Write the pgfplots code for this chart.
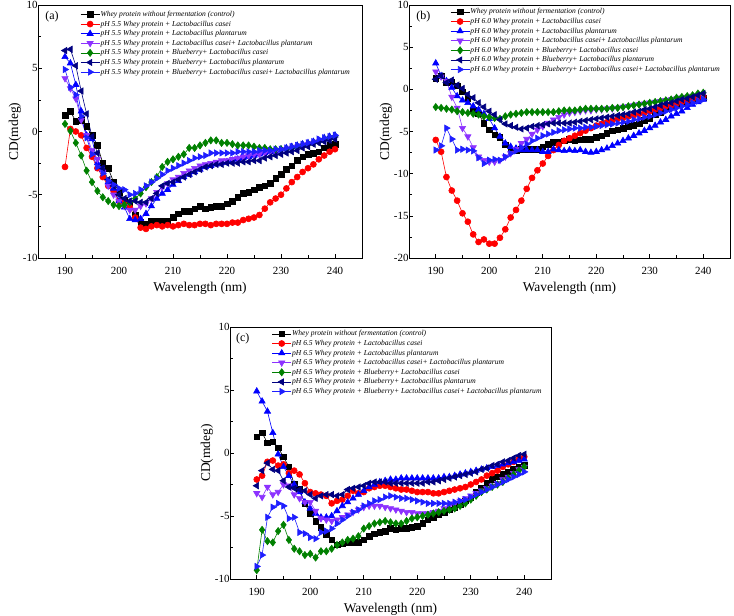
\documentclass[border=0pt]{standalone}
\usepackage{pgfplots}
\usepackage{pgfplotstable}
\pgfplotsset{compat=1.18}
\usepackage{fontspec}
\setmainfont{Liberation Serif}
\definecolor{cpurple}{RGB}{140,50,255}
\definecolor{cgreen}{RGB}{0,128,0}
\definecolor{cnavy}{RGB}{0,0,128}
\definecolor{cblue}{RGB}{0,0,255}
\definecolor{cblue2}{RGB}{30,30,255}

\pgfplotstableread{
x a b c d e f g
190 1.3 -2.8 5.9 4.2 0.6 6.4 4.9
191 1.6 0.2 5.4 3.4 0.05 6.5 3.5
192 0.8 0.0 3.7 2.6 -0.9 5.2 2.9
193 0.9 -0.3 1.6 0.9 -1.9 3.2 1.2
194 0.4 -1.3 -0.3 -0.3 -3.1 1.4 -0.5
195 -0.3 -2.0 -0.6 -1.5 -4.0 -0.4 -1.8
196 -1.1 -2.9 -2.5 -2.2 -4.7 -1.7 -2.8
197 -2.5 -3.6 -3.0 -3.2 -5.2 -2.9 -3.3
198 -2.9 -4.3 -4.0 -4.3 -5.5 -3.8 -3.9
199 -4.0 -4.7 -4.5 -5.0 -5.8 -4.3 -4.2
200 -4.8 -5.5 -5.5 -5.5 -5.9 -5.0 -4.5
201 -5.4 -5.6 -6.0 -5.9 -5.8 -5.3 -4.6
202 -5.7 -6.0 -6.9 -6.2 -5.6 -5.5 -5.0
203 -6.6 -6.8 -7.0 -6.2 -5.3 -5.5 -4.9
204 -7.2 -7.6 -6.9 -5.9 -4.9 -5.6 -4.6
205 -7.3 -7.7 -6.5 -5.7 -4.4 -5.6 -4.3
206 -7.1 -7.5 -5.9 -5.3 -4.0 -5.3 -4.0
207 -7.1 -7.4 -5.3 -4.8 -3.6 -4.9 -3.7
208 -7.1 -7.5 -4.9 -4.4 -2.8 -4.3 -3.4
209 -7.1 -7.4 -4.6 -4.1 -2.4 -4.1 -3.1
210 -6.8 -7.5 -4.2 -3.8 -2.2 -4.0 -2.9
211 -6.5 -7.4 -3.9 -3.6 -2.0 -3.8 -2.7
212 -6.3 -7.3 -3.6 -3.3 -1.8 -3.6 -2.5
213 -6.3 -7.4 -3.4 -3.1 -1.3 -3.4 -2.3
214 -6.1 -7.4 -3.2 -2.9 -1.3 -3.2 -2.1
215 -5.9 -7.3 -3.0 -2.7 -1.1 -3.0 -2.0
216 -6.1 -7.3 -2.8 -2.6 -0.9 -2.8 -1.9
217 -6.0 -7.4 -2.7 -2.5 -0.7 -2.7 -1.7
218 -5.9 -7.3 -2.6 -2.4 -0.7 -2.6 -1.7
219 -5.9 -7.3 -2.5 -2.3 -0.9 -2.6 -1.7
220 -5.7 -7.3 -2.4 -2.3 -0.9 -2.5 -1.7
221 -5.5 -7.2 -2.3 -2.2 -1.0 -2.5 -1.7
222 -5.2 -7.2 -2.2 -2.1 -1.1 -2.5 -1.6
223 -4.9 -7.0 -2.1 -2.0 -1.1 -2.4 -1.6
224 -4.8 -6.9 -2.0 -1.9 -1.1 -2.4 -1.6
225 -4.6 -6.8 -1.9 -1.8 -1.2 -2.3 -1.6
226 -4.4 -6.6 -1.8 -1.8 -1.3 -2.3 -1.5
227 -4.3 -6.1 -1.7 -1.7 -1.3 -2.1 -1.5
228 -4.1 -5.6 -1.6 -1.6 -1.4 -2.0 -1.5
229 -3.7 -5.3 -1.5 -1.6 -1.4 -1.9 -1.4
230 -3.4 -5.0 -1.4 -1.5 -1.4 -1.8 -1.4
231 -3.0 -4.5 -1.3 -1.4 -1.4 -1.7 -1.3
232 -2.7 -4.0 -1.2 -1.3 -1.3 -1.6 -1.2
233 -2.3 -3.6 -1.1 -1.2 -1.2 -1.5 -1.1
234 -2.0 -3.2 -1.0 -1.1 -1.1 -1.3 -1.0
235 -1.8 -2.9 -0.9 -1.0 -1.0 -1.2 -0.9
236 -1.7 -2.6 -0.8 -0.9 -0.9 -1.0 -0.8
237 -1.6 -2.2 -0.7 -0.8 -0.8 -0.9 -0.6
238 -1.3 -1.9 -0.5 -0.7 -0.6 -0.8 -0.5
239 -1.1 -1.6 -0.4 -0.6 -0.5 -0.7 -0.4
240 -1.0 -1.4 -0.3 -0.5 -0.4 -0.6 -0.3
}\tA

\pgfplotstableread{
x a b c d e f g
190 1.3 -6.0 3.1 2.1 -2.1 1.2 -7.2
191 1.6 -7.4 1.6 1.5 -2.2 1.6 -6.7
192 0.8 -10.4 1.0 1.0 -2.3 0.8 -4.6
193 0.9 -12.0 0.2 -0.9 -2.4 1.1 -5.9
194 0.4 -13.2 -0.8 -2.2 -2.6 0.5 -7.2
195 -0.3 -14.7 -1.3 -4.6 -2.7 0.1 -7.1
196 -1.1 -15.7 -1.6 -5.6 -2.8 -0.6 -7.2
197 -2.5 -17.2 -2.0 -6.9 -2.9 -1.0 -7.3
198 -2.9 -18.1 -2.4 -8.0 -3.0 -1.6 -8.1
199 -4.0 -17.8 -2.9 -8.4 -3.2 -2.1 -8.8
200 -4.8 -18.3 -3.5 -8.6 -3.3 -2.6 -8.4
201 -5.4 -18.3 -4.6 -8.6 -3.4 -3.0 -8.3
202 -5.7 -17.6 -5.6 -8.4 -3.5 -3.6 -8.4
203 -6.6 -16.6 -6.4 -8.0 -3.2 -4.1 -8.0
204 -7.2 -15.2 -6.8 -7.6 -3.0 -4.3 -7.6
205 -7.3 -14.3 -7.0 -7.1 -2.9 -4.5 -7.3
206 -7.1 -13.2 -7.2 -6.4 -2.8 -4.7 -6.9
207 -7.1 -11.8 -7.2 -5.9 -2.7 -4.6 -6.5
208 -7.1 -10.5 -7.2 -5.3 -2.7 -4.4 -6.1
209 -7.1 -9.6 -7.2 -4.8 -2.7 -4.3 -5.8
210 -6.8 -8.8 -7.4 -4.4 -2.7 -4.2 -5.5
211 -6.5 -7.9 -7.4 -4.0 -2.7 -4.1 -5.3
212 -6.3 -7.2 -7.1 -3.6 -2.7 -4.0 -5.1
213 -6.3 -6.6 -7.2 -3.3 -2.6 -4.0 -4.9
214 -6.1 -6.1 -7.3 -3.0 -2.5 -4.0 -4.8
215 -5.9 -5.8 -7.2 -2.8 -2.5 -4.0 -4.7
216 -6.1 -5.5 -7.3 -2.7 -2.5 -3.9 -4.6
217 -6.0 -5.2 -7.2 -2.6 -2.4 -3.8 -4.6
218 -5.9 -4.9 -7.4 -2.5 -2.3 -3.7 -4.5
219 -5.9 -4.6 -7.5 -2.5 -2.3 -3.6 -4.5
220 -5.7 -4.3 -7.4 -2.4 -2.3 -3.5 -4.4
221 -5.5 -4.1 -7.2 -2.4 -2.3 -3.4 -4.3
222 -5.2 -3.9 -7.0 -2.3 -2.3 -3.3 -4.2
223 -4.9 -3.7 -6.7 -2.3 -2.2 -3.2 -4.1
224 -4.8 -3.5 -6.4 -2.2 -2.2 -3.1 -4.0
225 -4.6 -3.4 -6.1 -2.1 -2.1 -3.0 -3.9
226 -4.4 -3.2 -5.8 -2.0 -2.0 -2.9 -3.8
227 -4.3 -3.1 -5.5 -1.9 -1.9 -2.7 -3.6
228 -4.1 -2.9 -5.2 -1.8 -1.8 -2.6 -3.5
229 -3.7 -2.8 -4.9 -1.7 -1.7 -2.4 -3.3
230 -3.4 -2.6 -4.6 -1.6 -1.6 -2.3 -3.2
231 -3.0 -2.4 -4.3 -1.5 -1.5 -2.1 -3.0
232 -2.7 -2.2 -3.9 -1.4 -1.4 -1.9 -2.8
233 -2.3 -2.0 -3.6 -1.3 -1.3 -1.7 -2.6
234 -2.0 -1.9 -3.2 -1.2 -1.2 -1.6 -2.4
235 -1.8 -1.7 -2.9 -1.1 -1.0 -1.4 -2.2
236 -1.7 -1.5 -2.6 -1.0 -0.9 -1.2 -2.0
237 -1.6 -1.3 -2.2 -0.9 -0.8 -1.1 -1.8
238 -1.3 -1.2 -1.8 -0.8 -0.7 -0.9 -1.6
239 -1.1 -1.0 -1.5 -0.7 -0.5 -0.7 -1.4
240 -1.0 -0.8 -1.2 -0.6 -0.4 -0.5 -1.2
}\tB

\pgfplotstableread{
x a b c d e f g
190 1.3 -2.1 4.9 -3.2 -9.3 -2.6 -9.0
191 1.6 -1.8 4.1 -3.5 -6.1 -1.4 -8.1
192 0.8 -0.7 3.3 -2.7 -7.0 -0.8 -5.1
193 0.9 -0.6 1.6 -3.3 -7.1 -1.3 -4.3
194 0.4 -1.0 -0.1 -3.1 -6.2 -1.4 -4.0
195 -0.3 -0.9 -1.1 -2.5 -5.7 -2.2 -4.2
196 -1.1 -1.6 -1.8 -2.6 -6.9 -2.7 -5.2
197 -2.5 -1.4 -2.5 -3.3 -7.6 -2.8 -5.1
198 -2.9 -1.7 -3.1 -3.6 -7.8 -2.9 -6.3
199 -4.0 -2.4 -3.9 -3.9 -8.1 -3.0 -6.4
200 -4.8 -3.1 -4.4 -3.9 -8.0 -3.3 -6.7
201 -5.4 -3.2 -4.8 -4.6 -8.3 -3.6 -6.8
202 -5.9 -3.3 -5.1 -5.2 -7.8 -3.4 -6.3
203 -6.5 -3.4 -5.1 -5.3 -7.8 -3.3 -6.2
204 -6.9 -4.0 -5.0 -5.4 -7.6 -3.3 -6.0
205 -7.3 -3.8 -4.6 -5.3 -7.3 -3.4 -5.6
206 -7.2 -3.7 -4.2 -5.1 -7.1 -3.3 -5.3
207 -7.1 -3.4 -3.9 -4.9 -6.9 -2.9 -5.0
208 -7.1 -3.0 -3.6 -4.7 -6.8 -2.8 -4.7
209 -7.1 -3.2 -3.3 -4.5 -6.6 -2.7 -4.5
210 -6.9 -3.1 -3.0 -4.3 -6.0 -2.6 -4.2
211 -6.6 -2.8 -2.7 -4.2 -5.8 -2.4 -4.0
212 -6.4 -2.7 -2.5 -4.2 -5.6 -2.3 -3.8
213 -6.3 -2.6 -2.3 -4.2 -5.5 -2.3 -3.7
214 -6.2 -2.6 -2.2 -4.3 -5.4 -2.3 -3.5
215 -6.0 -2.7 -2.1 -4.4 -5.5 -2.4 -3.4
216 -6.1 -2.8 -2.1 -4.5 -5.6 -2.4 -3.5
217 -6.0 -2.9 -2.0 -4.6 -5.6 -2.4 -3.6
218 -6.0 -2.9 -2.0 -4.7 -5.4 -2.4 -3.6
219 -5.9 -3.0 -2.0 -4.7 -5.2 -2.4 -3.7
220 -5.8 -3.1 -2.0 -4.8 -5.1 -2.4 -3.8
221 -5.6 -3.1 -2.0 -4.8 -5.0 -2.4 -3.9
222 -5.3 -3.1 -2.0 -4.8 -4.9 -2.3 -4.0
223 -5.1 -3.2 -2.0 -4.7 -4.8 -2.3 -4.0
224 -4.9 -3.2 -2.0 -4.6 -4.7 -2.2 -4.0
225 -4.7 -3.1 -1.9 -4.4 -4.6 -2.1 -4.0
226 -4.5 -3.0 -1.9 -4.2 -4.5 -2.0 -4.0
227 -4.3 -2.9 -1.8 -4.0 -4.4 -1.9 -3.9
228 -4.1 -2.8 -1.7 -3.8 -4.2 -1.8 -3.8
229 -3.8 -2.7 -1.6 -3.6 -4.0 -1.7 -3.7
230 -3.5 -2.5 -1.5 -3.4 -3.7 -1.6 -3.5
231 -3.1 -2.3 -1.4 -3.2 -3.4 -1.5 -3.3
232 -2.8 -2.1 -1.3 -3.0 -3.1 -1.3 -3.1
233 -2.4 -1.8 -1.2 -2.8 -2.9 -1.2 -2.9
234 -2.1 -1.6 -1.1 -2.6 -2.7 -1.0 -2.7
235 -1.9 -1.4 -1.0 -2.4 -2.5 -0.9 -2.5
236 -1.7 -1.1 -0.9 -2.1 -2.3 -0.7 -2.3
237 -1.5 -0.9 -0.8 -1.9 -2.0 -0.6 -2.1
238 -1.3 -0.7 -0.7 -1.6 -1.7 -0.4 -1.9
239 -1.1 -0.5 -0.6 -1.3 -1.4 -0.2 -1.7
240 -1.0 -0.3 -0.5 -1.1 -1.1 -0.1 -1.5
}\tC

\pgfplotsset{
  cd/.style={
    scale only axis, anchor=south west,
    xmin=185, xmax=245, xtick={190,200,...,240}, minor x tick num=1, minor y tick num=1,
    tick align=inside, xtick pos=bottom, ytick pos=left,
    major tick length=4bp, minor tick length=2.5bp,
    every tick/.style={black, line width=0.6bp},
    axis line style={line width=0.8bp},
    /pgf/number format/assume math mode=true,
    tick label style={font=\fontsize{11}{13}\selectfont},
    xticklabel style={yshift=-6bp},
    yticklabel style={xshift=3bp},
    label style={font=\fontsize{13.5}{15}\selectfont},
    xlabel={Wavelength (nm)}, ylabel={CD(mdeg)},
    xlabel style={yshift=0bp},
    ylabel style={yshift=-5bp},
    legend cell align=left,
    legend style={draw=none, fill=none, anchor=north west,
      font=\fontsize{7.6}{8}\selectfont\itshape,
      row sep=1.2bp, inner sep=0pt,
      nodes={inner sep=0.6bp, text height=5.6bp, text depth=1.6bp}},
    legend image code/.code={\draw[mark repeat=2, mark phase=2, ##1] plot coordinates {(0bp,0bp)(9.5bp,0bp)(19bp,0bp)};},
    every axis plot/.append style={line width=0.6bp},
  },
  s1/.style={black, mark=square*, mark size=2.8bp, mark options={solid}},
  s2/.style={red, mark=*, mark size=3bp, mark options={solid}},
  s3/.style={cblue, mark=triangle*, mark size=3.6bp, mark options={solid}},
  s4/.style={cpurple, mark=triangle*, mark size=3.6bp, mark options={solid, rotate=180}},
  s5/.style={cgreen, mark=diamond*, mark size=3.6bp, mark options={solid}},
  s6/.style={cnavy, mark=triangle*, mark size=3.6bp, mark options={solid, rotate=90}},
  s7/.style={cblue2, mark=triangle*, mark size=3.6bp, mark options={solid, rotate=-90}},
}

\begin{document}
\begin{tikzpicture}
\useasboundingbox (0,0) rectangle (734bp,616bp);

% (a)
\begin{axis}[cd, at={(38bp,358bp)}, width=324bp, height=253bp,
  ymin=-10, ymax=10, ytick={-10,-5,0,5,10},
  legend style={at={(0.13,0.98)}}]
\addplot[s1] table[x=x,y=a]{\tA};
\addplot[s2] table[x=x,y=b]{\tA};
\addplot[s3] table[x=x,y=c]{\tA};
\addplot[s4] table[x=x,y=d]{\tA};
\addplot[s5] table[x=x,y=e]{\tA};
\addplot[s6] table[x=x,y=f]{\tA};
\addplot[s7] table[x=x,y=g]{\tA};
\legend{Whey protein without fermentation (control),
pH 5.5 Whey protein + Lactobacillus casei,
pH 5.5 Whey protein + Lactobacillus plantarum,
pH 5.5 Whey protein + Lactobacillus casei+ Lactobacillus plantarum,
pH 5.5 Whey protein + Blueberry+ Lactobacillus casei,
pH 5.5 Whey protein + Blueberry+ Lactobacillus plantarum,
pH 5.5 Whey protein + Blueberry+ Lactobacillus casei+ Lactobacillus plantarum}
\node[anchor=west, font=\fontsize{12}{14}\selectfont] at (rel axis cs:0.012,0.955) {(a)};
\end{axis}

% (b)
\begin{axis}[cd, at={(409bp,358bp)}, width=321bp, height=253bp,
  ymin=-20, ymax=10, ytick={-20,-15,-10,-5,0,5,10},
  legend style={at={(0.128,0.99)}}]
\addplot[s1] table[x=x,y=a]{\tB};
\addplot[s2] table[x=x,y=b]{\tB};
\addplot[s3] table[x=x,y=c]{\tB};
\addplot[s4] table[x=x,y=d]{\tB};
\addplot[s5] table[x=x,y=e]{\tB};
\addplot[s6] table[x=x,y=f]{\tB};
\addplot[s7] table[x=x,y=g]{\tB};
\legend{Whey protein without fermentation (control),
pH 6.0 Whey protein + Lactobacillus casei,
pH 6.0 Whey protein + Lactobacillus plantarum,
pH 6.0 Whey protein + Lactobacillus casei+ Lactobacillus plantarum,
pH 6.0 Whey protein + Blueberry+ Lactobacillus casei,
pH 6.0 Whey protein + Blueberry+ Lactobacillus plantarum,
pH 6.0 Whey protein + Blueberry+ Lactobacillus casei+ Lactobacillus plantarum}
\node[anchor=west, font=\fontsize{12}{14}\selectfont] at (rel axis cs:0.012,0.955) {(b)};
\end{axis}

% (c)
\begin{axis}[cd, at={(230bp,37bp)}, width=321bp, height=252bp,
  ymin=-10, ymax=10, ytick={-10,-5,0,5,10},
  legend style={at={(0.13,0.99)}}]
\addplot[s1] table[x=x,y=a]{\tC};
\addplot[s2] table[x=x,y=b]{\tC};
\addplot[s3] table[x=x,y=c]{\tC};
\addplot[s4] table[x=x,y=d]{\tC};
\addplot[s5] table[x=x,y=e]{\tC};
\addplot[s6] table[x=x,y=f]{\tC};
\addplot[s7] table[x=x,y=g]{\tC};
\legend{Whey protein without fermentation (control),
pH 6.5 Whey protein + Lactobacillus casei,
pH 6.5 Whey protein + Lactobacillus plantarum,
pH 6.5 Whey protein + Lactobacillus casei+ Lactobacillus plantarum,
pH 6.5 Whey protein + Blueberry+ Lactobacillus casei,
pH 6.5 Whey protein + Blueberry+ Lactobacillus plantarum,
pH 6.5 Whey protein + Blueberry+ Lactobacillus casei+ Lactobacillus plantarum}
\node[anchor=west, font=\fontsize{12}{14}\selectfont] at (rel axis cs:0.008,0.955) {(c)};
\end{axis}
\end{tikzpicture}
\end{document}
